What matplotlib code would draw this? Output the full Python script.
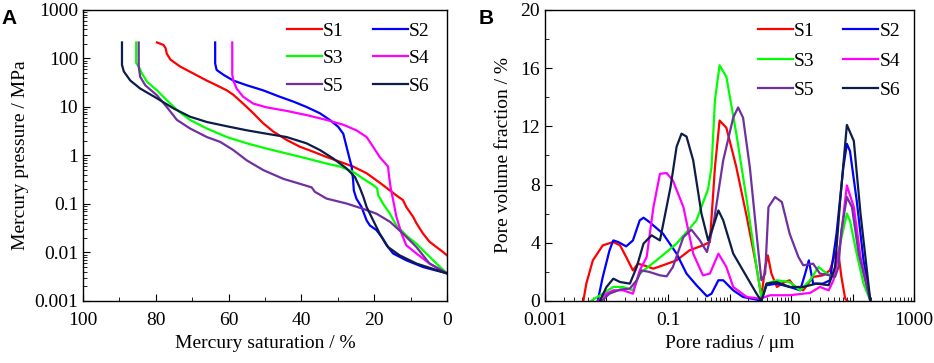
import numpy as np
import matplotlib
matplotlib.use("Agg")
import matplotlib.pyplot as plt
from matplotlib.ticker import LogLocator, MultipleLocator, FuncFormatter, NullFormatter

plt.rcParams['font.family'] = ['Liberation Serif', 'DejaVu Serif']

# ====================== Panel A: mercury injection curves ======================
sat_s1 = [79.7, 77.9, 77.3, 77, 76, 73.3, 69.7, 66, 63.3, 60.5, 58.7, 56, 53.2, 50.5, 47.7, 44.1, 40.4, 36.7,
          33.1, 29.4, 25.8, 22.1, 18.5, 15.7, 13.9, 12.1, 11.2, 9.3, 8.4, 6.6, 4.8, 2.9, 1.1, 0]
p_s1 = [214, 190, 162, 126, 95, 68, 49, 35, 28, 22, 17.8, 11.7, 7.4, 4.6, 3.1, 2.1, 1.51, 1.19, 0.93, 0.74,
        0.59, 0.43, 0.275, 0.19, 0.15, 0.12, 0.087, 0.054, 0.040, 0.0245, 0.0166, 0.0129, 0.0102, 0.0087]

sat_s2 = [63.7, 63.7, 63.3, 61.4, 58.7, 55.0, 50.5, 45.9, 42.2, 38.6, 34.9, 32.2, 29.9, 28.5, 27.6, 26.9, 26.2,
          25.8, 25.6, 24.9, 23.5, 22.1, 21.2, 19.4, 18.0, 16.6, 14.8, 11.2, 6.6, 0]
p_s2 = [214, 79, 58, 46, 35, 28, 22, 16.2, 12.9, 10, 7.4, 5.4, 3.9, 2.8, 1.51, 0.93, 0.59, 0.31, 0.19, 0.129,
        0.087, 0.046, 0.036, 0.029, 0.021, 0.0141, 0.0095, 0.0069, 0.0050, 0.0037]

sat_s3 = [85.4, 85.4, 84.7, 83.8, 82.4, 79.7, 77, 74.2, 70.6, 66, 60.5, 55, 49.5, 44.1, 38.6, 33.1, 29.4, 25.8,
          23.0, 20.3, 19.2, 18.9, 17.6, 15.7, 13.9, 11.2, 8.4, 5.7, 2.9, 0]
p_s3 = [214, 81, 68, 49, 33, 22, 13.8, 8.7, 5.4, 3.6, 2.4, 1.78, 1.38, 1.10, 0.87, 0.68, 0.59, 0.46, 0.33,
        0.245, 0.21, 0.151, 0.102, 0.063, 0.036, 0.0224, 0.0151, 0.0095, 0.0059, 0.0037]

sat_s4 = [59.0, 59.0, 58.7, 57.8, 56, 53.2, 49.5, 44.1, 38.6, 33.1, 28.5, 24.9, 22.1, 20.3, 18.5, 16.2, 15.9,
          15.5, 14.8, 13.9, 12.5, 11.2, 8.4, 4.8, 0]
p_s4 = [214, 46, 35, 24, 16.2, 11.7, 9.8, 8.3, 6.8, 5.4, 4.3, 3.3, 2.4, 1.51, 0.93, 0.59, 0.36, 0.22, 0.12,
        0.054, 0.0245, 0.0141, 0.0095, 0.0059, 0.0037]

sat_s5 = [84.7, 84.7, 84.3, 82.9, 79.7, 77, 74.2, 70.6, 66, 62.3, 58.7, 55, 50.5, 45, 40.4, 37.2, 36.3, 33.1,
          27.6, 23.0, 19.4, 15.7, 12.1, 8.4, 4.8, 0]
p_s5 = [214, 68, 42, 28, 17.4, 10, 5.4, 3.6, 2.4, 1.9, 1.29, 0.79, 0.50, 0.33, 0.26, 0.22, 0.178, 0.129, 0.102,
        0.079, 0.063, 0.043, 0.0245, 0.0129, 0.0059, 0.0037]

sat_s6 = [89.3, 89.3, 88.8, 87, 84.3, 79.7, 75.1, 70.6, 66, 60.5, 55, 49.5, 44.1, 38.6, 34.9, 31.3, 27.6, 25.3,
          24.0, 23.0, 22.1, 20.3, 18.5, 16.2, 13.0, 8.4, 0]
p_s6 = [214, 74, 54, 35, 24, 15.1, 9.3, 6.3, 4.9, 4.0, 3.3, 2.8, 2.4, 1.78, 1.29, 0.87, 0.54, 0.36, 0.22,
        0.141, 0.087, 0.046, 0.0245, 0.0129, 0.0087, 0.0059, 0.0037]

# ====================== Panel B: pore size distribution ======================
r_s1 = [0.0042, 0.0047, 0.0060, 0.0087, 0.0129, 0.0166, 0.0209, 0.0269, 0.0324, 0.040, 0.058, 0.083, 0.138,
        0.224, 0.37, 0.48, 0.58, 0.69, 0.89, 1.29, 1.91, 2.75, 3.3, 3.8, 4.2, 4.8, 5.9, 7.9, 9.5, 11.5, 15.8,
        22.9, 33, 43, 52, 59, 66, 76, 83]
v_s1 = [0, 1.19, 2.79, 3.82, 4.05, 3.82, 3.02, 2.1, 2.56, 2.45, 2.22, 2.45, 2.79, 3.48, 3.82, 4.05, 9.2, 12.4,
        11.9, 9.2, 5.77, 2.33, 0.27, 2.33, 3.13, 1.88, 0.96, 1.30, 1.42, 0.96, 0.73, 1.65, 1.76, 2.1, 3.25, 3.25,
        1.65, 0.16, 0]

r_s2 = [0.0072, 0.0087, 0.0112, 0.0129, 0.0155, 0.0209, 0.0269, 0.0347, 0.040, 0.050, 0.083, 0.138, 0.20, 0.29,
        0.43, 0.51, 0.66, 0.79, 1.15, 1.66, 2.75, 3.3, 4.0, 5.9, 9.5, 14.1, 17.0, 19.5, 22.9, 33, 43, 55, 71, 81,
        91, 117, 151, 195]
v_s2 = [0, 1.65, 3.48, 4.16, 4.05, 3.75, 4.16, 5.54, 5.72, 5.42, 4.62, 3.25, 1.88, 1.08, 0.32, 0.5, 1.42, 1.42,
        0.73, 0.27, 0.09, 0, 1.08, 1.19, 0.96, 0.73, 1.88, 2.79, 1.19, 1.19, 1.42, 4.62, 9.2, 10.8, 10.3, 6.9,
        2.79, 0]

r_s3 = [0.0056, 0.0087, 0.0129, 0.0186, 0.0269, 0.0347, 0.065, 0.138, 0.29, 0.45, 0.51, 0.58, 0.69, 0.89, 1.29,
        1.91, 2.75, 3.3, 4.0, 5.9, 9.5, 14.1, 20.4, 28, 38, 49, 63, 81, 91, 117, 151, 195]
v_s3 = [0, 0.5, 0.96, 0.96, 0.73, 1.88, 2.79, 3.94, 5.54, 7.71, 9.2, 13.8, 16.2, 15.4, 11.5, 6.9, 2.33, 0.27,
        1.19, 1.42, 1.30, 0.73, 1.42, 2.33, 1.88, 1.65, 3.94, 6.0, 5.5, 3.25, 1.19, 0]

r_s4 = [0.0072, 0.010, 0.0129, 0.0186, 0.0269, 0.0347, 0.045, 0.058, 0.074, 0.095, 0.120, 0.178, 0.257, 0.37,
        0.48, 0.66, 0.89, 1.15, 1.91, 3.1, 4.6, 9.5, 20.4, 29.5, 41, 49, 63, 81, 105, 135, 195]
v_s4 = [0, 0.5, 0.73, 0.73, 0.5, 2.1, 3.02, 6.45, 8.74, 8.79, 8.28, 6.45, 3.25, 1.76, 1.88, 3.25, 2.33, 0.96,
        0.27, 0.16, 0.39, 0.39, 0.55, 0.96, 0.73, 1.42, 3.94, 7.94, 6.45, 3.02, 0]

r_s5 = [0.0083, 0.0112, 0.0166, 0.024, 0.031, 0.037, 0.050, 0.074, 0.095, 0.120, 0.178, 0.24, 0.33, 0.43, 0.55,
        0.79, 1.15, 1.38, 1.66, 2.14, 2.75, 3.3, 3.8, 4.3, 5.5, 7.1, 9.5, 13.2, 15.8, 22.9, 29.5, 43, 52, 59, 66,
        81, 98, 126, 195]
v_s5 = [0, 0.5, 0.78, 0.85, 1.42, 2.1, 1.99, 1.76, 1.69, 2.33, 4.39, 4.9, 4.16, 3.36, 5.3, 9.66, 12.6, 13.3,
        12.6, 9.2, 4.62, 1.42, 1.88, 6.45, 7.14, 6.8, 4.62, 3.02, 2.45, 2.56, 1.88, 1.76, 1.65, 2.33, 4.85, 7.14,
        6.45, 3.25, 0]

r_s6 = [0.0078, 0.010, 0.0129, 0.0166, 0.024, 0.031, 0.040, 0.054, 0.074, 0.110, 0.138, 0.166, 0.20, 0.257,
        0.35, 0.45, 0.54, 0.66, 0.79, 1.15, 1.91, 2.75, 3.3, 4.0, 5.9, 9.5, 15.8, 26, 41, 52, 63, 81, 105, 135, 195]
v_s6 = [0, 0.96, 1.53, 1.30, 1.19, 2.33, 3.94, 4.51, 4.16, 7.83, 10.6, 11.5, 11.3, 9.66, 6.0, 4.16, 5.08, 6.22,
        5.54, 3.25, 1.65, 0.5, 0, 1.19, 1.30, 0.96, 0.96, 1.19, 1.08, 2.33, 6.9, 12.1, 11.0, 6.0, 0]

labels = ['S1', 'S2', 'S3', 'S4', 'S5', 'S6']
colors = ['#FF0000', '#0000FF', '#00FF00', '#FF00FF', '#7030A0', '#0B1D48']

sat_all = [sat_s1, sat_s2, sat_s3, sat_s4, sat_s5, sat_s6]
p_all = [p_s1, p_s2, p_s3, p_s4, p_s5, p_s6]
r_all = [r_s1, r_s2, r_s3, r_s4, r_s5, r_s6]
v_all = [v_s1, v_s2, v_s3, v_s4, v_s5, v_s6]

# ====================== Plot ======================
fig = plt.figure(figsize=(9.34, 3.63), dpi=100)
axA = fig.add_axes([0.0889, 0.171, 0.3897, 0.8015])
axB = fig.add_axes([0.5835, 0.171, 0.3951, 0.8015])

fs = 14
for ax in (axA, axB):
    for sp in ax.spines.values():
        sp.set_linewidth(1.0)
    ax.tick_params(which='both', direction='in', top=False, right=False, labelsize=fs)
    ax.tick_params(which='major', length=5)
    ax.tick_params(which='minor', length=3)


def row_legend(ax, anchor, spacing):
    # legend filled row by row: S1 S2 / S3 S4 / S5 S6
    h, l = ax.get_legend_handles_labels()
    order = [0, 2, 4, 1, 3, 5]
    ax.legend([h[i] for i in order], [l[i] for i in order], loc='upper right', ncol=2, frameon=False,
              fontsize=fs, handlelength=1.8, columnspacing=1.5, labelspacing=spacing,
              handletextpad=0.05, bbox_to_anchor=anchor)


for x, y, c, lab in zip(sat_all, p_all, colors, labels):
    axA.plot(x, y, color=c, lw=1.6, label=lab)
axA.set_yscale('log')
axA.set_xlim(100, 0)
axA.set_ylim(0.001, 1000)
axA.xaxis.set_major_locator(MultipleLocator(20))
axA.xaxis.set_minor_locator(MultipleLocator(10))
axA.yaxis.set_major_locator(LogLocator(base=10, numticks=10))
axA.yaxis.set_minor_locator(LogLocator(base=10, subs=np.arange(2, 10), numticks=10))
axA.yaxis.set_minor_formatter(NullFormatter())
axA.yaxis.set_major_formatter(FuncFormatter(lambda v, p: f'{v:g}'))
axA.tick_params(axis='x', pad=8)
axA.set_xlabel('Mercury saturation / %', fontsize=fs, labelpad=4)
axA.set_ylabel('Mercury pressure / MPa', fontsize=fs, labelpad=4)
row_legend(axA, (1.0, 1.018), 0.5)

for x, y, c, lab in zip(r_all, v_all, colors, labels):
    axB.plot(x, y, color=c, lw=1.6, label=lab)
axB.set_xscale('log')
axB.set_xlim(0.001, 1000)
axB.set_ylim(0, 20)
axB.xaxis.set_major_locator(LogLocator(base=10, numticks=10))
axB.xaxis.set_minor_locator(LogLocator(base=10, subs=np.arange(2, 10), numticks=10))
axB.xaxis.set_minor_formatter(NullFormatter())
axB.xaxis.set_major_formatter(FuncFormatter(
    lambda v, p: f'{v:g}' if round(np.log10(v)) % 2 == 1 else ''))
axB.yaxis.set_major_locator(MultipleLocator(4))
axB.yaxis.set_minor_locator(MultipleLocator(2))
axB.tick_params(axis='x', pad=8)
axB.set_xlabel('Pore radius / μm', fontsize=fs, labelpad=4)
axB.set_ylabel('Pore volume fraction / %', fontsize=fs, labelpad=6)
row_legend(axB, (1.01, 1.018), 0.62)

fig.text(0.002, 0.935, 'A', fontsize=15, fontweight='bold', family='Liberation Sans')
fig.text(0.512, 0.935, 'B', fontsize=15, fontweight='bold', family='Liberation Sans')

fig.savefig('out.png', dpi=100)
